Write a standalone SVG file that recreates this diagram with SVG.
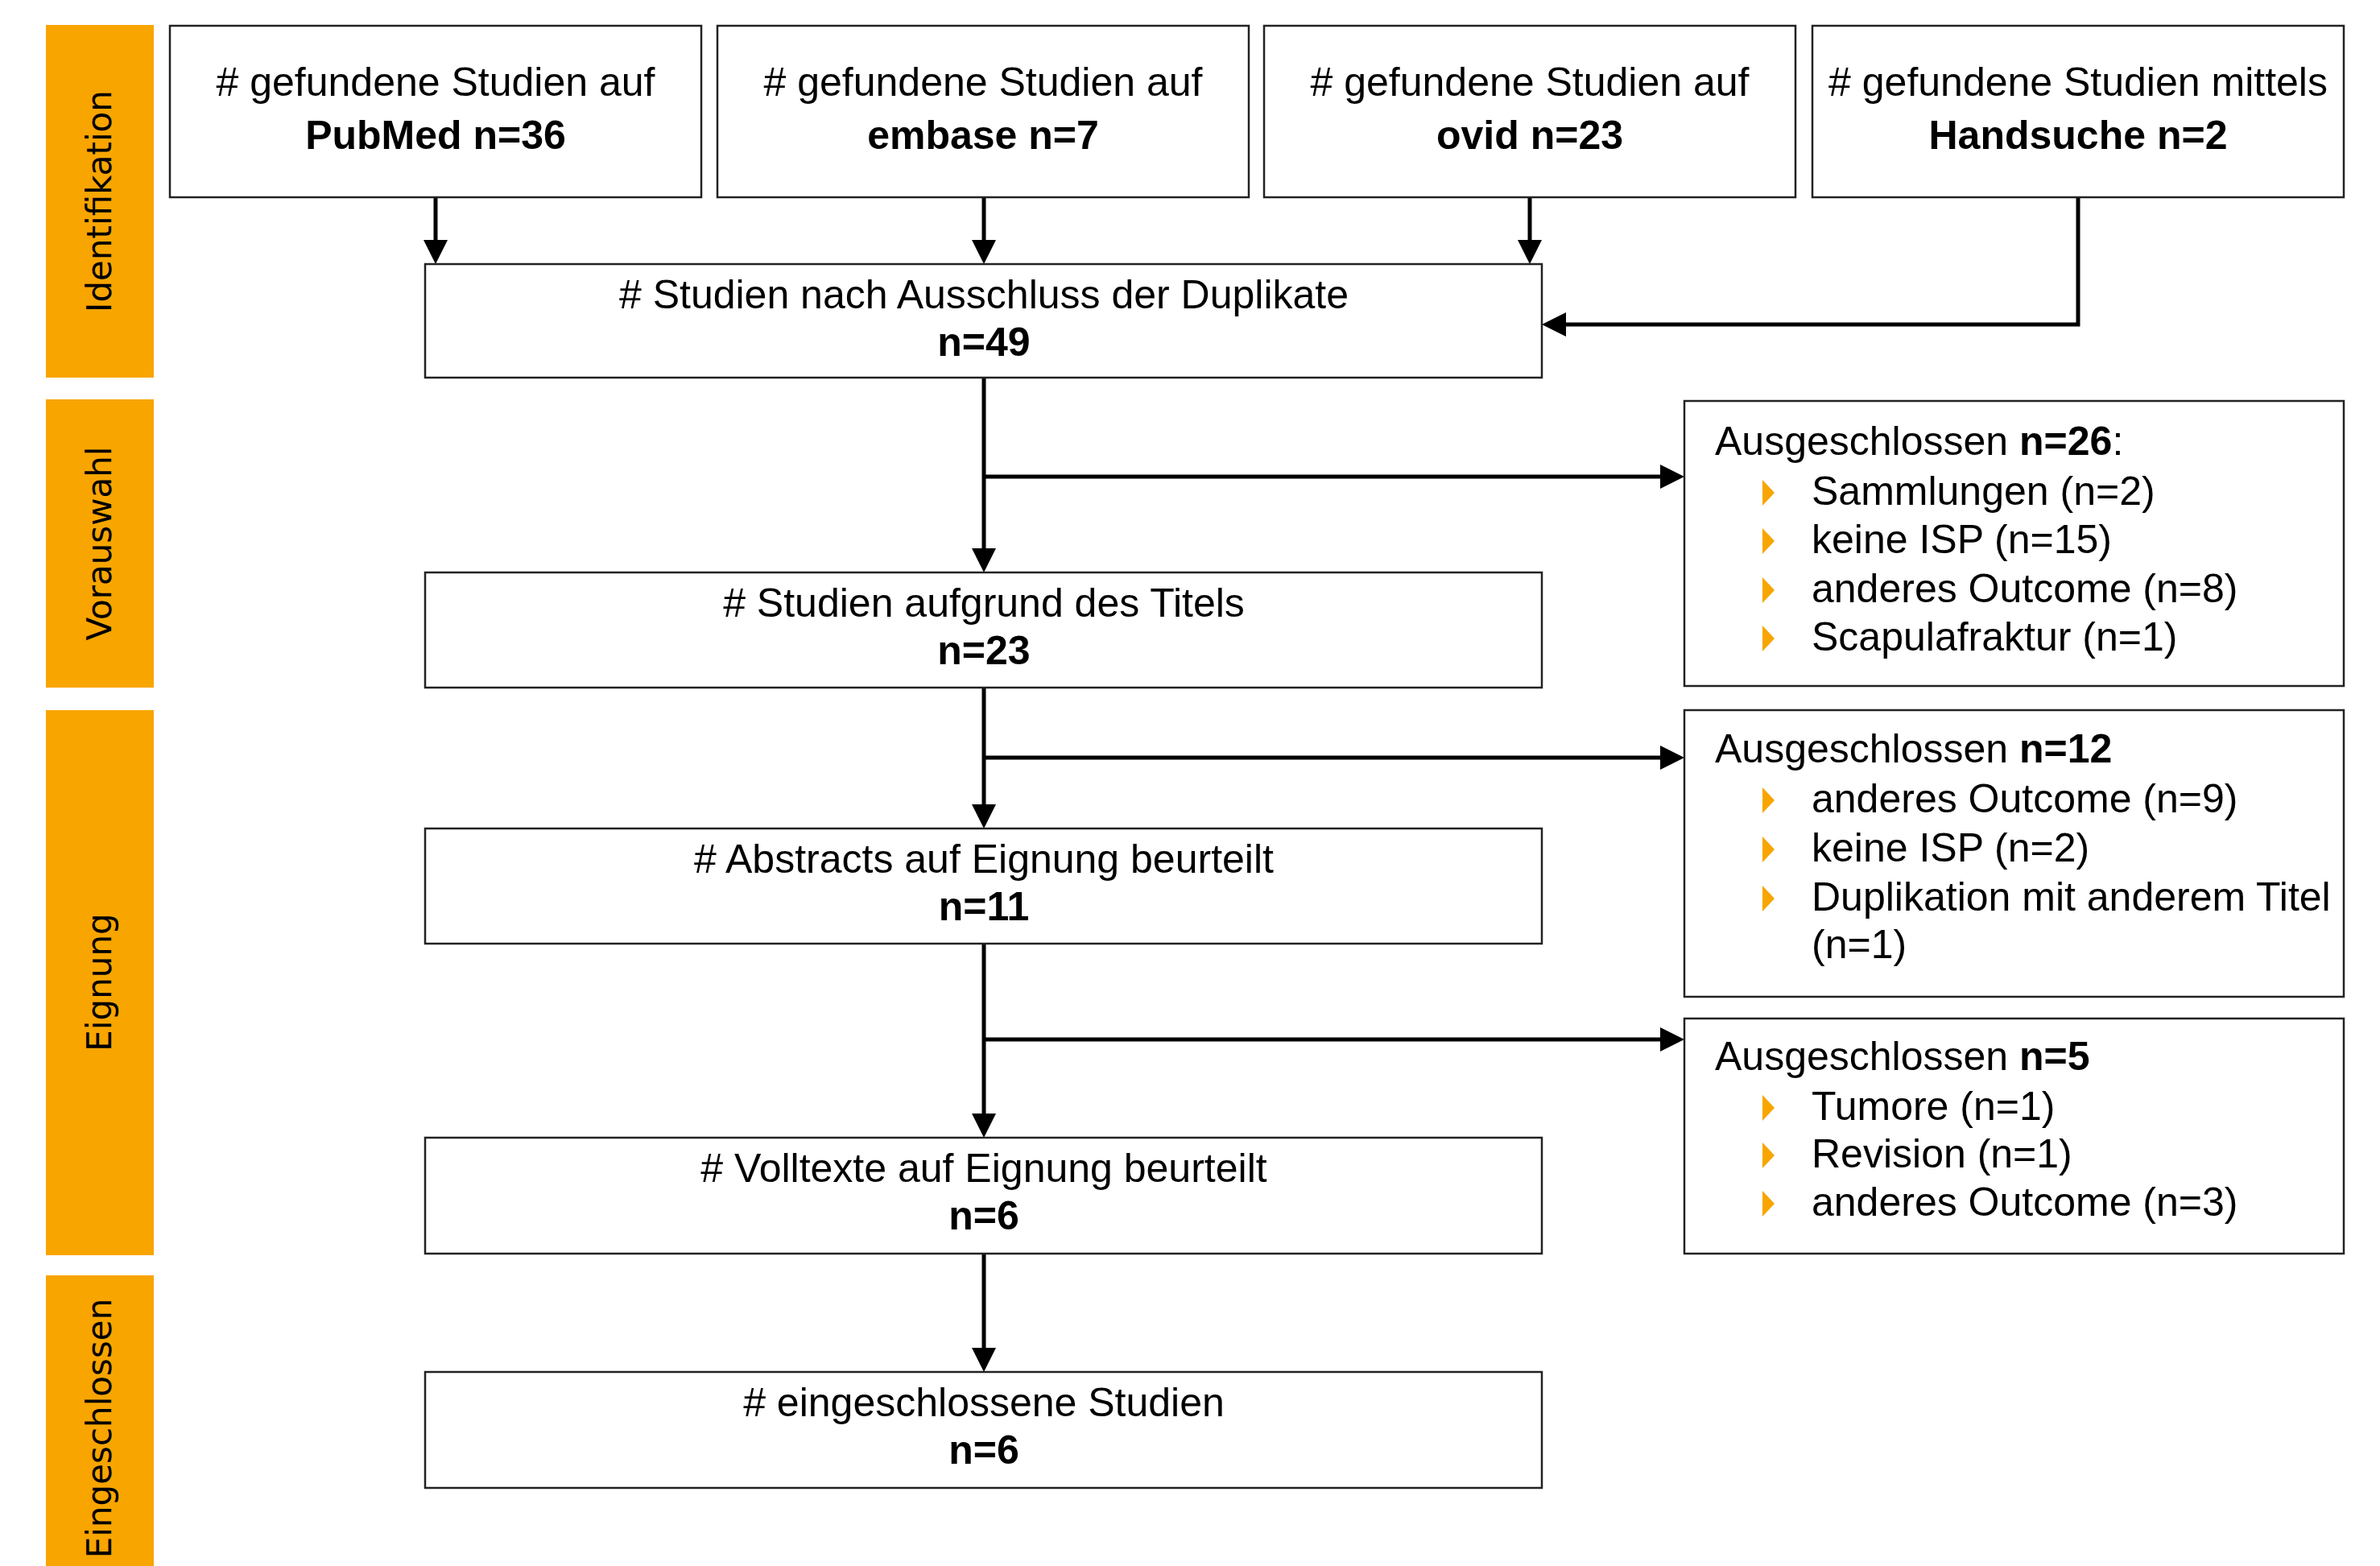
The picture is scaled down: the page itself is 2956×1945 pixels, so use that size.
<svg xmlns="http://www.w3.org/2000/svg" width="2956" height="1945" viewBox="0 0 2956 1945">
<defs>
<style>
.band{fill:#F8A500}
.bt{font-family:"DejaVu Sans",Verdana,sans-serif;font-size:42px;fill:#000;text-anchor:middle}
.box{fill:#fff;stroke:#222;stroke-width:2.5}
.t{font-family:"Liberation Sans",Arial,sans-serif;font-size:50px;fill:#000}
.c{text-anchor:middle}
.b{font-weight:bold}
.bul{fill:#F8A500}
.con{fill:none;stroke:#000;stroke-width:5}
</style>
<marker id="arr" viewBox="0 0 30 30" markerWidth="30" markerHeight="30" refX="20" refY="15" orient="auto" markerUnits="userSpaceOnUse">
<path d="M0,0 L30,15 L0,30 z" fill="#000"/>
</marker>
<path id="tri" d="M0,0 L15,16 L0,32 z"/>
</defs>
<rect width="2956" height="1945" fill="#fff"/>

<g id="bands">
<g id="band-identifikation"><rect class="band" x="57" y="31" width="134" height="438"/><text class="bt" transform="translate(138,250) rotate(-90)">Identifikation</text></g>
<g id="band-vorauswahl"><rect class="band" x="57" y="496" width="134" height="358"/><text class="bt" transform="translate(138,675) rotate(-90)">Vorauswahl</text></g>
<g id="band-eignung"><rect class="band" x="57" y="882" width="134" height="677"/><text class="bt" transform="translate(138,1220) rotate(-90)">Eignung</text></g>
<g id="band-eingeschlossen"><rect class="band" x="57" y="1584" width="134" height="361"/><text class="bt" transform="translate(138,1774) rotate(-90)">Eingeschlossen</text></g>
</g>

<g id="connectors">
<line class="con" x1="541" y1="245" x2="541" y2="318" marker-end="url(#arr)"/>
<line class="con" x1="1222" y1="245" x2="1222" y2="318" marker-end="url(#arr)"/>
<line class="con" x1="1900" y1="245" x2="1900" y2="318" marker-end="url(#arr)"/>
<polyline class="con" points="2581,245 2581,403 1925,403" marker-end="url(#arr)"/>
<line class="con" x1="1222" y1="469" x2="1222" y2="701" marker-end="url(#arr)"/>
<line class="con" x1="1222" y1="592" x2="2082" y2="592" marker-end="url(#arr)"/>
<line class="con" x1="1222" y1="854" x2="1222" y2="1019" marker-end="url(#arr)"/>
<line class="con" x1="1222" y1="941" x2="2082" y2="941" marker-end="url(#arr)"/>
<line class="con" x1="1222" y1="1172" x2="1222" y2="1403" marker-end="url(#arr)"/>
<line class="con" x1="1222" y1="1291" x2="2082" y2="1291" marker-end="url(#arr)"/>
<line class="con" x1="1222" y1="1557" x2="1222" y2="1694" marker-end="url(#arr)"/>
</g>

<g id="src-pubmed"><rect class="box" x="211" y="32" width="660" height="213"/><text class="t c" x="541" y="119"># gefundene Studien auf</text><text class="t c b" x="541" y="185">PubMed n=36</text></g>
<g id="src-embase"><rect class="box" x="891" y="32" width="660" height="213"/><text class="t c" x="1221" y="119"># gefundene Studien auf</text><text class="t c b" x="1221" y="185">embase n=7</text></g>
<g id="src-ovid"><rect class="box" x="1570" y="32" width="660" height="213"/><text class="t c" x="1900" y="119"># gefundene Studien auf</text><text class="t c b" x="1900" y="185">ovid n=23</text></g>
<g id="src-hand"><rect class="box" x="2251" y="32" width="660" height="213"/><text class="t c" x="2581" y="119"># gefundene Studien mittels</text><text class="t c b" x="2581" y="185">Handsuche n=2</text></g>

<g id="dedup"><rect class="box" x="528" y="328" width="1387" height="141"/><text class="t c" x="1222" y="383"># Studien nach Ausschluss der Duplikate</text><text class="t c b" x="1222" y="442">n=49</text></g>
<g id="title"><rect class="box" x="528" y="711" width="1387" height="143"/><text class="t c" x="1222" y="766"># Studien aufgrund des Titels</text><text class="t c b" x="1222" y="825">n=23</text></g>
<g id="abstracts"><rect class="box" x="528" y="1029" width="1387" height="143"/><text class="t c" x="1222" y="1084"># Abstracts auf Eignung beurteilt</text><text class="t c b" x="1222" y="1143">n=11</text></g>
<g id="fulltext"><rect class="box" x="528" y="1413" width="1387" height="144"/><text class="t c" x="1222" y="1468"># Volltexte auf Eignung beurteilt</text><text class="t c b" x="1222" y="1527">n=6</text></g>
<g id="included"><rect class="box" x="528" y="1704" width="1387" height="144"/><text class="t c" x="1222" y="1759"># eingeschlossene Studien</text><text class="t c b" x="1222" y="1818">n=6</text></g>

<g id="excl-1"><rect class="box" x="2092" y="498" width="819" height="354"/>
<text class="t" x="2130" y="565">Ausgeschlossen <tspan class="b">n=26</tspan>:</text>
<use href="#tri" class="bul" x="2189" y="596"/><text class="t" x="2250" y="627">Sammlungen (n=2)</text>
<use href="#tri" class="bul" x="2189" y="656"/><text class="t" x="2250" y="687">keine ISP (n=15)</text>
<use href="#tri" class="bul" x="2189" y="717"/><text class="t" x="2250" y="748">anderes Outcome (n=8)</text>
<use href="#tri" class="bul" x="2189" y="777"/><text class="t" x="2250" y="808">Scapulafraktur (n=1)</text>
</g>
<g id="excl-2"><rect class="box" x="2092" y="882" width="819" height="356"/>
<text class="t" x="2130" y="947">Ausgeschlossen <tspan class="b">n=12</tspan></text>
<use href="#tri" class="bul" x="2189" y="978"/><text class="t" x="2250" y="1009">anderes Outcome (n=9)</text>
<use href="#tri" class="bul" x="2189" y="1039"/><text class="t" x="2250" y="1070">keine ISP (n=2)</text>
<use href="#tri" class="bul" x="2189" y="1100"/><text class="t" x="2250" y="1131">Duplikation mit anderem Titel</text>
<text class="t" x="2250" y="1190">(n=1)</text>
</g>
<g id="excl-3"><rect class="box" x="2092" y="1265" width="819" height="292"/>
<text class="t" x="2130" y="1329">Ausgeschlossen <tspan class="b">n=5</tspan></text>
<use href="#tri" class="bul" x="2189" y="1360"/><text class="t" x="2250" y="1391">Tumore (n=1)</text>
<use href="#tri" class="bul" x="2189" y="1419"/><text class="t" x="2250" y="1450">Revision (n=1)</text>
<use href="#tri" class="bul" x="2189" y="1479"/><text class="t" x="2250" y="1510">anderes Outcome (n=3)</text>
</g>
</svg>
